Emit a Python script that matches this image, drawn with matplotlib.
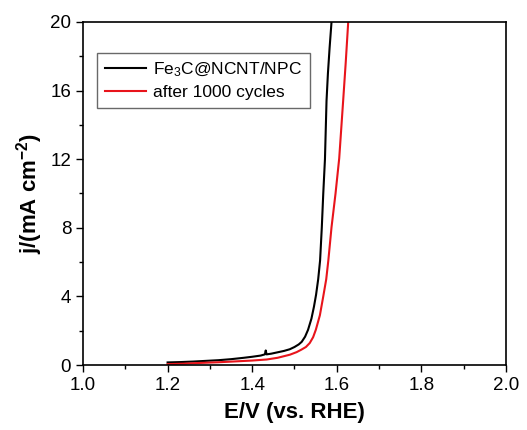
import matplotlib
matplotlib.use("Agg")
import matplotlib.pyplot as plt
from matplotlib.ticker import MultipleLocator

plt.rcParams['font.family'] = ['Liberation Sans', 'DejaVu Sans']
plt.rcParams['mathtext.fontset'] = 'custom'
plt.rcParams['mathtext.rm'] = 'Liberation Sans'
plt.rcParams['mathtext.it'] = 'Liberation Sans:italic'
plt.rcParams['mathtext.bf'] = 'Liberation Sans:bold'

# Fe3C@NCNT/NPC (black)
E_black = [1.200, 1.230, 1.260, 1.290, 1.320, 1.350, 1.380, 1.400, 1.420, 1.430, 1.432, 1.434,
           1.445, 1.460, 1.475, 1.489, 1.500, 1.510, 1.517, 1.525, 1.532, 1.540, 1.546,
           1.551, 1.556, 1.5605, 1.5645, 1.568, 1.572, 1.5757, 1.579, 1.583, 1.5875]
j_black = [0.15, 0.17, 0.20, 0.24, 0.28, 0.34, 0.42, 0.48, 0.55, 0.62, 0.85, 0.62,
           0.66, 0.74, 0.82, 0.92, 1.05, 1.20, 1.35, 1.65, 2.05, 2.70, 3.40,
           4.10, 5.00, 6.10, 8.00, 10.0, 12.0, 15.4, 17.0, 18.5, 20.0]

# after 1000 cycles (red)
E_red = [1.200, 1.240, 1.276, 1.320, 1.360, 1.400, 1.434, 1.460, 1.489, 1.505, 1.5166,
         1.527, 1.536, 1.544, 1.5505, 1.560, 1.568, 1.575, 1.580, 1.5875, 1.597, 1.6057,
         1.615, 1.621, 1.627]
j_red = [0.05, 0.08, 0.12, 0.16, 0.21, 0.26, 0.32, 0.42, 0.60, 0.75, 0.90,
         1.05, 1.28, 1.62, 2.06, 2.90, 4.00, 5.00, 6.10, 8.03, 10.0, 12.05,
         15.4, 17.6, 20.0]

xticks = [1.0, 1.2, 1.4, 1.6, 1.8, 2.0]
xticklabels = ['1.0', '1.2', '1.4', '1.6', '1.8', '2.0']
yticks = [0, 4, 8, 12, 16, 20]

fig = plt.figure(figsize=(5.27, 4.30), dpi=100)
ax = fig.add_axes([83/527, 1 - 365/430, (506-83)/527, (365-22)/430])

ax.plot(E_black, j_black, color='black', lw=1.5, label='Fe$_3$C@NCNT/NPC')
ax.plot(E_red, j_red, color='#e8141b', lw=1.5, label='after 1000 cycles')

ax.set_xlim(1.0, 2.0)
ax.set_ylim(0, 20)
ax.set_xticks(xticks)
ax.set_xticklabels(xticklabels)
ax.set_yticks(yticks)
ax.xaxis.set_minor_locator(MultipleLocator(0.1))
ax.yaxis.set_minor_locator(MultipleLocator(2))
ax.tick_params(which='both', direction='out', top=False, right=False, labelsize=13.5, width=1)
ax.tick_params(which='major', length=5)
ax.tick_params(which='minor', length=3)
for s in ax.spines.values():
    s.set_linewidth(1.2)

ax.set_xlabel('E/V (vs. RHE)', fontsize=16, fontweight='bold', labelpad=6)
ax.set_ylabel(r'j/(mA cm$^{\mathbf{-2}}$)', fontsize=16, fontweight='bold', labelpad=4)

leg = ax.legend(loc='upper left', bbox_to_anchor=(0.033, 0.91), borderaxespad=0,
                fontsize=12.5, frameon=True, fancybox=False, edgecolor='#444444',
                handlelength=2.4, handletextpad=0.4, borderpad=0.45, labelspacing=0.35)
leg.get_frame().set_linewidth(1.0)

fig.savefig('out.png', dpi=100)
